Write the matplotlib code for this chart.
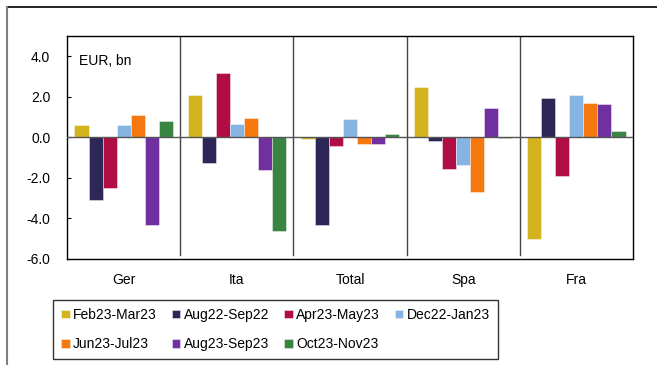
import matplotlib
matplotlib.use("Agg")
import matplotlib.pyplot as plt
from matplotlib.lines import Line2D
import numpy as np

plt.rcParams['font.family'] = ['Liberation Sans', 'DejaVu Sans']

# Countries and periods
countries = ['Ger', 'Ita', 'Total', 'Spa', 'Fra']
periods = ['Feb23-Mar23', 'Aug22-Sep22', 'Apr23-May23', 'Dec22-Jan23',
           'Jun23-Jul23', 'Aug23-Sep23', 'Oct23-Nov23']
colors = ['#D4B41E', '#2D2757', '#B00D44', '#85B4E2',
          '#F4780E', '#7030A0', '#398440']

# EUR bn, one list per period, in country order
feb23_mar23 = [0.6, 2.1, -0.1, 2.5, -5.0]
aug22_sep22 = [-3.1, -1.25, -4.3, -0.2, 1.96]
apr23_may23 = [-2.5, 3.16, -0.43, -1.55, -1.93]
dec22_jan23 = [0.6, 0.64, 0.89, -1.38, 2.09]
jun23_jul23 = [1.1, 0.94, -0.31, -2.7, 1.71]
aug23_sep23 = [-4.3, -1.63, -0.33, 1.47, 1.63]
oct23_nov23 = [0.8, -4.64, 0.16, -0.05, 0.31]
series = [feb23_mar23, aug22_sep22, apr23_may23, dec22_jan23,
          jun23_jul23, aug23_sep23, oct23_nov23]

fig = plt.figure(figsize=(6.57, 3.65), dpi=100)
ax = fig.add_axes([67 / 657, 1 - 259 / 365, 566 / 657, 223 / 365])

x = np.arange(len(countries))
w = 0.124
bars = []
for i, (vals, lab, col) in enumerate(zip(series, periods, colors)):
    b = ax.bar(x + (i - 3) * w, vals, width=w, color=col, label=lab,
               edgecolor=(1, 1, 1, 0.6), linewidth=0.5, zorder=2)
    bars.append(b)

ax.axhline(0, color='#555555', lw=1.0, zorder=3)
for b in x[:-1] + 0.5:
    ax.axvline(b, ymin=0.02, ymax=1, color='#444444', lw=1.0, zorder=1)

ax.set_xlim(-0.5, 4.5)
ax.set_ylim(-6, 5)
ax.set_yticks(np.arange(-6, 5, 2))
ax.set_yticklabels(['%.1f' % v for v in np.arange(-6, 5, 2)])
ax.set_xticks(x)
ax.set_xticklabels(countries)
ax.tick_params(axis='y', direction='in', length=3, labelsize=10, pad=12)
ax.tick_params(axis='x', length=0, labelsize=10, pad=10)
for s in ax.spines.values():
    s.set_color('black')
    s.set_linewidth(1.0)

ax.text(0.022, 0.89, 'EUR, bn', transform=ax.transAxes, fontsize=10,
        ha='left', va='center')

# legend fills row by row: reorder for matplotlib's column-wise layout
order = [0, 4, 1, 5, 2, 6, 3]
leg = fig.legend([bars[i] for i in order], [periods[i] for i in order],
                 loc='center', ncol=4, mode='expand', borderaxespad=0,
                 bbox_to_anchor=(53 / 657, 4 / 365, 445 / 657, 63 / 365),
                 fontsize=10, frameon=True, fancybox=False,
                 handlelength=0.6, handleheight=0.6, handletextpad=0.25,
                 labelspacing=1.1, borderpad=0.6)
leg.get_frame().set_edgecolor('black')
leg.get_frame().set_linewidth(1.0)

# outer panel border
fig.add_artist(Line2D([7 / 657, 1], [1 - 7 / 365, 1 - 7 / 365],
                      transform=fig.transFigure, color='black', lw=1.2))
fig.add_artist(Line2D([7 / 657, 7 / 657], [0, 1 - 7 / 365],
                      transform=fig.transFigure, color='#808080', lw=1.5))

fig.savefig('out.png', dpi=100)
